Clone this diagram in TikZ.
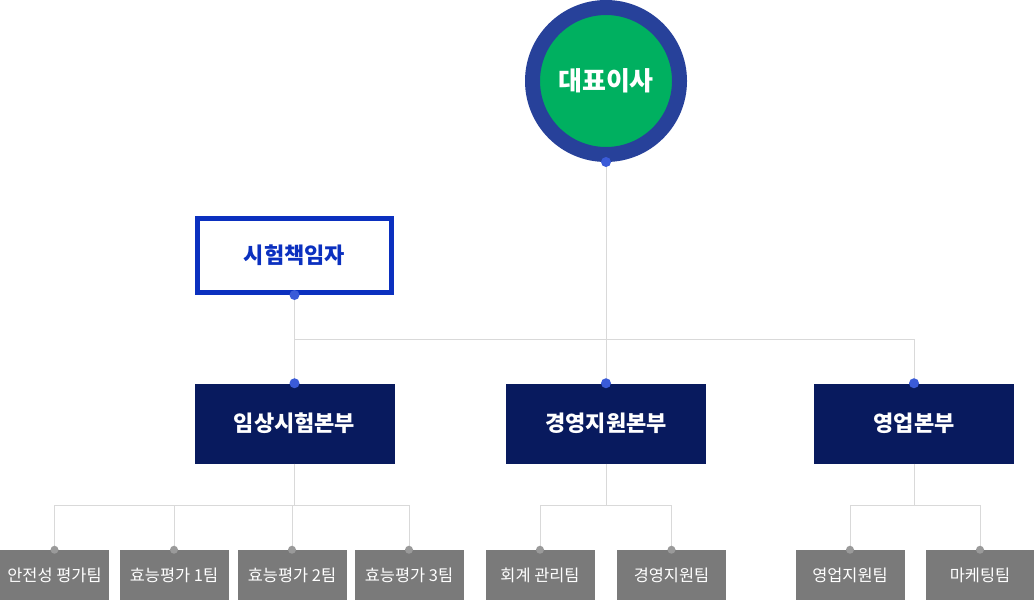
\documentclass[tikz,border=0pt]{standalone}
\usepackage{fontspec}
\setmainfont{Noto Sans CJK KR}
\usetikzlibrary{calc,positioning}
\definecolor{ringblue}{HTML}{27419A}
\definecolor{ceogreen}{HTML}{00B060}
\definecolor{navy}{HTML}{081A5E}
\definecolor{piblue}{HTML}{0B30BF}
\definecolor{teamgray}{HTML}{7A7A7A}
\definecolor{linegray}{HTML}{D9D9D9}
\definecolor{dotblue}{HTML}{3A5BD8}
\definecolor{dotgray}{HTML}{9A9A9A}
\begin{document}
\begin{tikzpicture}[x=0.75pt,y=-0.75pt,
		hq/.style={fill=navy, text=white, minimum width=150pt, minimum height=60pt, inner sep=0pt, font=\fontsize{16.5}{20}\selectfont\bfseries},
		team/.style={fill=teamgray, text=white, minimum width=81.75pt, minimum height=37.5pt, inner sep=0pt, font=\fontsize{12.3}{14}\selectfont},
		link/.style={linegray, line width=0.75pt},
		bdot/.style={fill=dotblue},
		gdot/.style={fill=dotgray}]
			\useasboundingbox (0,0) rectangle (1034,600);
			% top
			\node[circle, draw=ringblue, line width=11.25pt, fill=ceogreen, minimum size=110.25pt, text=white, font=\fontsize{19.5}{23}\selectfont\bfseries] (ceo) at (606,81) {대표이사};
			\node[draw=piblue, line width=3.75pt, minimum width=145.5pt, minimum height=55.5pt, inner sep=0pt, text=piblue, font=\fontsize{16.5}{20}\selectfont\bfseries] (pi) at (294.5,255.5) {시험책임자};
			% divisions
			\node[hq] (clin) at (294.5,423.5) {임상시험본부};
			\node[hq] (mgmt) at (606,423.5) {경영지원본부};
			\node[hq] (sales) at (914,423.5) {영업본부};
			% teams
			\node[team] (t1) at (54.5,575) {안전성 평가팀};
			\node[team] (t2) at (174,575) {효능평가 1팀};
			\node[team] (t3) at (292,575) {효능평가 2팀};
			\node[team] (t4) at (409,575) {효능평가 3팀};
			\node[team] (m1) at (540,575) {회계 관리팀};
			\node[team] (m2) at (671.5,575) {경영지원팀};
			\node[team] (s1) at (850,575) {영업지원팀};
			\node[team] (s2) at (980,575) {마케팅팀};
			% lines
			\coordinate (bar) at ($(clin.north)+(0,-44)$);
			\draw[link] (ceo.south) -- (mgmt.north);
			\draw[link] (pi.south) -- (clin.north);
			\draw[link] (bar) -| (sales.north);
			\foreach \t in {t1,t2,t3,t4}
				\draw[link] (clin.south) -- ++(0,42) -| (\t.north);
			\foreach \t in {m1,m2}
				\draw[link] (mgmt.south) -- ++(0,42) -| (\t.north);
			\foreach \t in {s1,s2}
				\draw[link] (sales.south) -- ++(0,42) -| (\t.north);
			% dots
			\foreach \d in {ceo.south,pi.south,clin.north,mgmt.north,sales.north}
				\fill[bdot] (\d) circle (3.75pt);
			\foreach \d in {t1,t2,t3,t4,m1,m2,s1,s2}
				\fill[gdot] (\d.north) circle (3pt);
	\end{tikzpicture}
\end{document}
